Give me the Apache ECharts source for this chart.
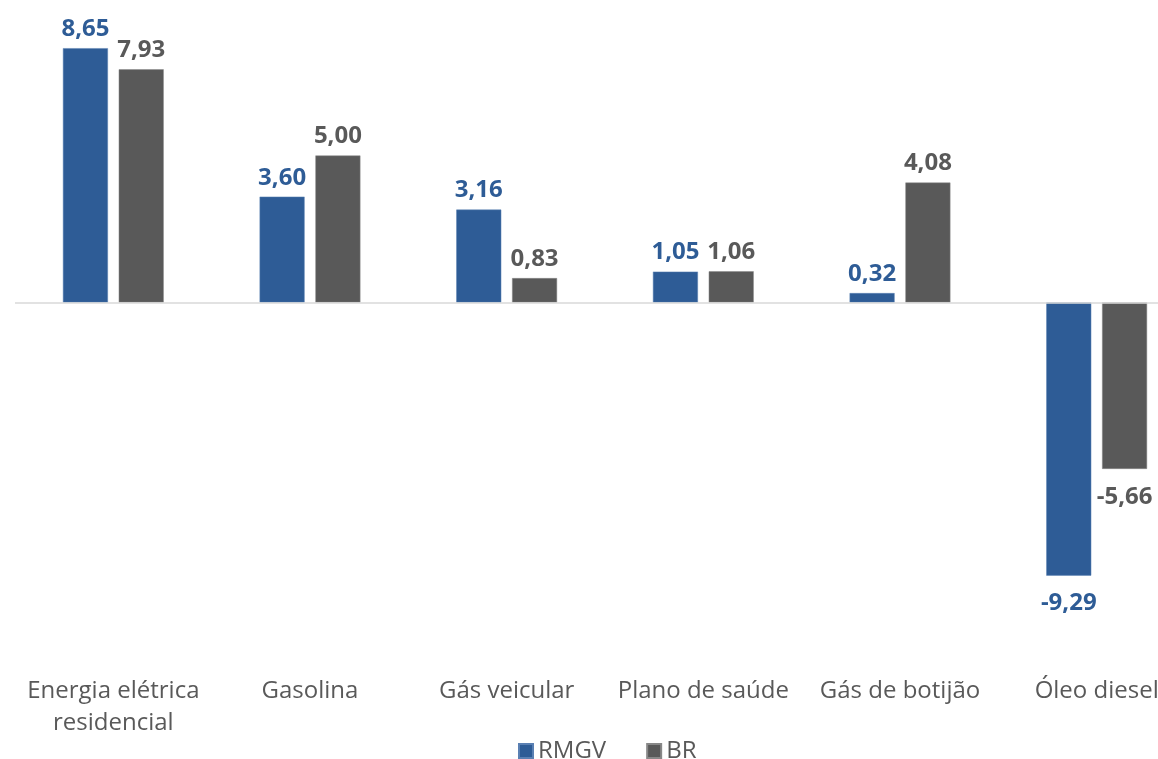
<!DOCTYPE html>
<html>
<head>
<meta charset="utf-8">
<script src="https://cdn.jsdelivr.net/npm/echarts@6/dist/echarts.min.js"></script>
<style>
	html, body { margin: 0; padding: 0; background: #ffffff; overflow: hidden; }
	#chart { width: 1220px; height: 759px; }
</style>
</head>
<body>
<div id="chart"></div>
<script>
var categories = ['Energia elétrica\nresidencial', 'Gasolina', 'Gás veicular', 'Plano de saúde', 'Gás de botijão', 'Óleo diesel'];
var rmgvValues = [8.65, 3.60, 3.16, 1.05, 0.32, -9.29];
var brValues = [7.93, 5.00, 0.83, 1.06, 4.08, -5.66];
var seriesNames = ['RMGV', 'BR'];

var View = function() {
	var blue = '#2E5C96';
	var gray = '#595959';
	var fontName = '"Open Sans", "DejaVu Sans", sans-serif';

	// label acima da barra, ou abaixo quando o valor é negativo
	var buildData = function(values) {
		return values.map(function(v) {
			return {
				value : v,
				label : v < 0 ? { position : 'bottom', distance : 16 } : { position : 'top', distance : 7 }
			};
		});
	};

	var fmt = function(p) {
		return p.value.toFixed(2).replace('.', ',');
	};

	var initChart = function() {
		// o container é mais largo que a janela: o último grupo fica cortado, como no original
		var myChart = echarts.init(document.getElementById('chart'));
		var option = {
			animation : false,
			color : [ blue, gray ],
			textStyle : { fontFamily : fontName },
			legend : {
				top : 734,
				left : 513,
				itemWidth : 14,
				itemHeight : 14,
				itemGap : 40,
				icon : 'rect',
				textStyle : { fontSize : 24, color : gray, fontFamily : fontName },
				data : seriesNames
			},
			grid : {
				left : 15,
				top : 8.5,
				width : 1180,
				height : 646.8
			},
			xAxis : {
				type : 'category',
				data : categories,
				axisLine : { show : false, onZero : false },
				axisTick : { show : false },
				axisLabel : {
					fontSize : 24,
					color : gray,
					lineHeight : 32,
					margin : 20,
					interval : 0,
					fontFamily : fontName
				}
			},
			yAxis : {
				type : 'value',
				min : -12,
				max : 10,
				show : false,
				splitLine : { show : false }
			},
			series : [ {
				name : seriesNames[0],
				type : 'bar',
				barWidth : 45,
				barGap : '24%',
				data : buildData(rmgvValues),
				itemStyle : { color : blue, borderColor : '#5a80b3', borderWidth : 0.5 },
				label : {
					show : true,
					fontSize : 24,
					fontWeight : 'bold',
					color : blue,
					fontFamily : fontName,
					formatter : fmt
				},
				markLine : {
					silent : true,
					symbol : 'none',
					label : { show : false },
					lineStyle : { color : '#d9d9d9', width : 1.5, type : 'solid' },
					data : [ { yAxis : 0 } ]
				}
			}, {
				name : seriesNames[1],
				type : 'bar',
				barWidth : 45,
				data : buildData(brValues),
				itemStyle : { color : gray, borderColor : '#888888', borderWidth : 0.5 },
				label : {
					show : true,
					fontSize : 24,
					fontWeight : 'bold',
					color : gray,
					fontFamily : fontName,
					formatter : fmt
				}
			} ]
		};
		myChart.setOption(option);
		return myChart;
	};

	return {
		init : function() {
			initChart();
		}
	};
}();

View.init();
</script>
</body>
</html>
